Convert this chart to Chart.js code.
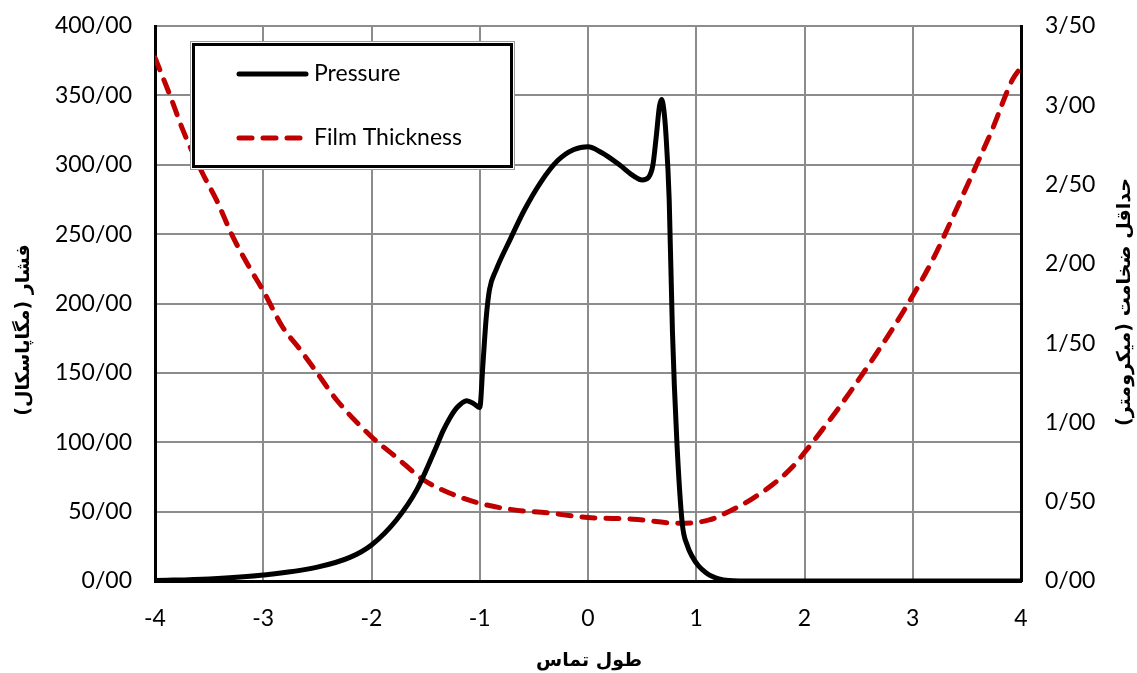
<!DOCTYPE html>
<html><head><meta charset="utf-8">
<script src="https://cdn.jsdelivr.net/npm/chart.js@4.4.0/dist/chart.umd.min.js"></script>
<style>html,body{margin:0;padding:0;background:#fff;}canvas{display:block}</style>
</head><body>
<canvas id="c" width="1137" height="673"></canvas>
<script>
const xTickLabels = ['-4','-3','-2','-1','0','1','2','3','4'];
const leftTickLabels = ['0/00','50/00','100/00','150/00','200/00','250/00','300/00','350/00','400/00'];
const rightTickLabels = ['0/00','0/50','1/00','1/50','2/00','2/50','3/00','3/50'];
const seriesNames = ['Pressure', 'Film Thickness'];
const xTitle = 'طول تماس';
const leftTitle = 'فشار (مگاپاسکال)';
const rightTitle = 'حداقل ضخامت (میکرومتر)';

const pressureX = [-4.0,-3.5,-3.0,-2.5,-2.2,-2.0,-1.77,-1.58,-1.4,-1.34,-1.28,-1.21,-1.12,-1.05,-1.0,-0.97,-0.94,-0.91,-0.85,-0.72,-0.59,-0.44,-0.28,-0.13,0.0,0.12,0.29,0.42,0.5,0.56,0.6,0.63,0.66,0.68,0.70,0.72,0.75,0.78,0.82,0.87,0.92,0.96,1.02,1.09,1.15,1.21,1.3,1.4,2.0,3.0,4.0];
const pressure  = [0.3,1.5,4.3,10,17,26,44,66,97,108,117,125,130,127.5,125,157,190,210,224,246,267,287,303,311,313,309,300,292,289,291,300,320,342,347,340,322,275,180,102,42,25,18,11,6,3.2,1.5,0.3,0,0,0,0];

const filmX = [-4.0,-3.86,-3.74,-3.56,-3.43,-3.28,-3.13,-3.0,-2.82,-2.66,-2.5,-2.32,-2.0,-1.77,-1.525,-1.28,-1.0,-0.7,-0.38,0.0,0.42,0.84,1.12,1.33,1.52,1.70,1.89,2.0,2.16,2.32,2.44,2.66,2.94,3.18,3.36,3.54,3.73,3.92,4.0];
const film  = [3.30,3.06,2.84,2.57,2.40,2.17,1.98,1.83,1.60,1.46,1.31,1.14,0.91,0.78,0.64,0.555,0.49,0.45,0.43,0.40,0.39,0.364,0.385,0.448,0.52,0.605,0.72,0.81,0.95,1.095,1.21,1.43,1.73,2.02,2.28,2.55,2.84,3.16,3.24];

const tickFont = {family: 'Lato', size: 23};
const titleFont = 'bold 19px "DejaVu Sans"';

const overlay = {
  id: 'overlay',
  afterDatasetsDraw(chart) {
    const ctx = chart.ctx;
    ctx.save();
    ctx.fillStyle = '#fff';
    ctx.fillRect(191, 42, 323, 127);
    ctx.strokeStyle = '#9a9a9a';
    ctx.lineWidth = 1;
    ctx.strokeRect(190.5, 41.5, 324, 128);
    ctx.strokeStyle = '#000';
    ctx.lineWidth = 3;
    ctx.strokeRect(193.5, 44.5, 318, 122);
    ctx.lineCap = 'round';
    ctx.lineWidth = 5;
    ctx.strokeStyle = '#000';
    ctx.beginPath(); ctx.moveTo(239, 74); ctx.lineTo(306, 74); ctx.stroke();
    ctx.strokeStyle = '#c00000';
    ctx.setLineDash([13, 11]);
    ctx.beginPath(); ctx.moveTo(239, 138); ctx.lineTo(303, 138); ctx.stroke();
    ctx.setLineDash([]);
    ctx.fillStyle = '#000';
    ctx.font = '23px Lato';
    ctx.textBaseline = 'middle';
    ctx.textAlign = 'left';
    ctx.fillText(seriesNames[0], 314, 74);
    ctx.fillText(seriesNames[1], 314, 138);
    ctx.restore();
  },
  afterDraw(chart) {
    const ctx = chart.ctx;
    ctx.save();
    ctx.fillStyle = '#000';
    ctx.font = titleFont;
    ctx.direction = 'rtl';
    ctx.textAlign = 'center';
    ctx.textBaseline = 'middle';
    ctx.fillText(xTitle, 589, 661);
    ctx.save();
    ctx.translate(24, 330);
    ctx.rotate(-Math.PI / 2);
    ctx.fillText(leftTitle, 0, 0);
    ctx.restore();
    ctx.save();
    ctx.translate(1125, 302);
    ctx.rotate(-Math.PI / 2);
    ctx.fillText(rightTitle, 0, 0);
    ctx.restore();
    ctx.restore();
  }
};

new Chart(document.getElementById('c'), {
  type: 'line',
  data: {
    datasets: [
      {
        label: seriesNames[0],
        data: pressureX.map((x, i) => ({x, y: pressure[i]})),
        yAxisID: 'y',
        borderColor: '#000',
        borderWidth: 5,
        pointRadius: 0,
        fill: false,
        cubicInterpolationMode: 'monotone',
        borderCapStyle: 'round',
        borderJoinStyle: 'round'
      },
      {
        label: seriesNames[1],
        data: filmX.map((x, i) => ({x, y: film[i]})),
        yAxisID: 'y2',
        borderColor: '#c00000',
        borderWidth: 5,
        borderDash: [13, 11],
        borderCapStyle: 'round',
        pointRadius: 0,
        fill: false,
        cubicInterpolationMode: 'monotone'
      }
    ]
  },
  options: {
    responsive: false,
    animation: false,
    events: [],
    layout: {padding: {top: 26, left: 0, right: 0, bottom: 0}},
    plugins: {legend: {display: false}, tooltip: {enabled: false}},
    scales: {
      x: {
        type: 'linear', min: -4, max: 4,
        afterFit: s => { s.height = 92; },
        ticks: {stepSize: 1, color: '#000', font: tickFont, padding: 24, maxRotation: 0,
                callback: (v, i) => xTickLabels[i]},
        grid: {color: '#8c8c8c', lineWidth: 2, drawTicks: false},
        border: {color: '#000', width: 3}
      },
      y: {
        type: 'linear', position: 'left', min: 0, max: 400,
        afterFit: s => { s.width = 155; },
        ticks: {stepSize: 50, color: '#000', font: tickFont, padding: 0,
                callback: (v, i) => leftTickLabels[i]},
        grid: {color: '#8c8c8c', lineWidth: 2, drawTicks: true, tickLength: 23, tickColor: 'rgba(0,0,0,0)'},
        border: {color: '#000', width: 3}
      },
      y2: {
        type: 'linear', position: 'right', min: 0, max: 3.5,
        afterFit: s => { s.width = 116; },
        ticks: {stepSize: 0.5, color: '#000', font: tickFont, padding: 0,
                callback: (v, i) => rightTickLabels[i]},
        grid: {display: false, drawTicks: true, tickLength: 24},
        border: {color: '#000', width: 3}
      }
    }
  },
  plugins: [overlay]
});
</script>
</body></html>
